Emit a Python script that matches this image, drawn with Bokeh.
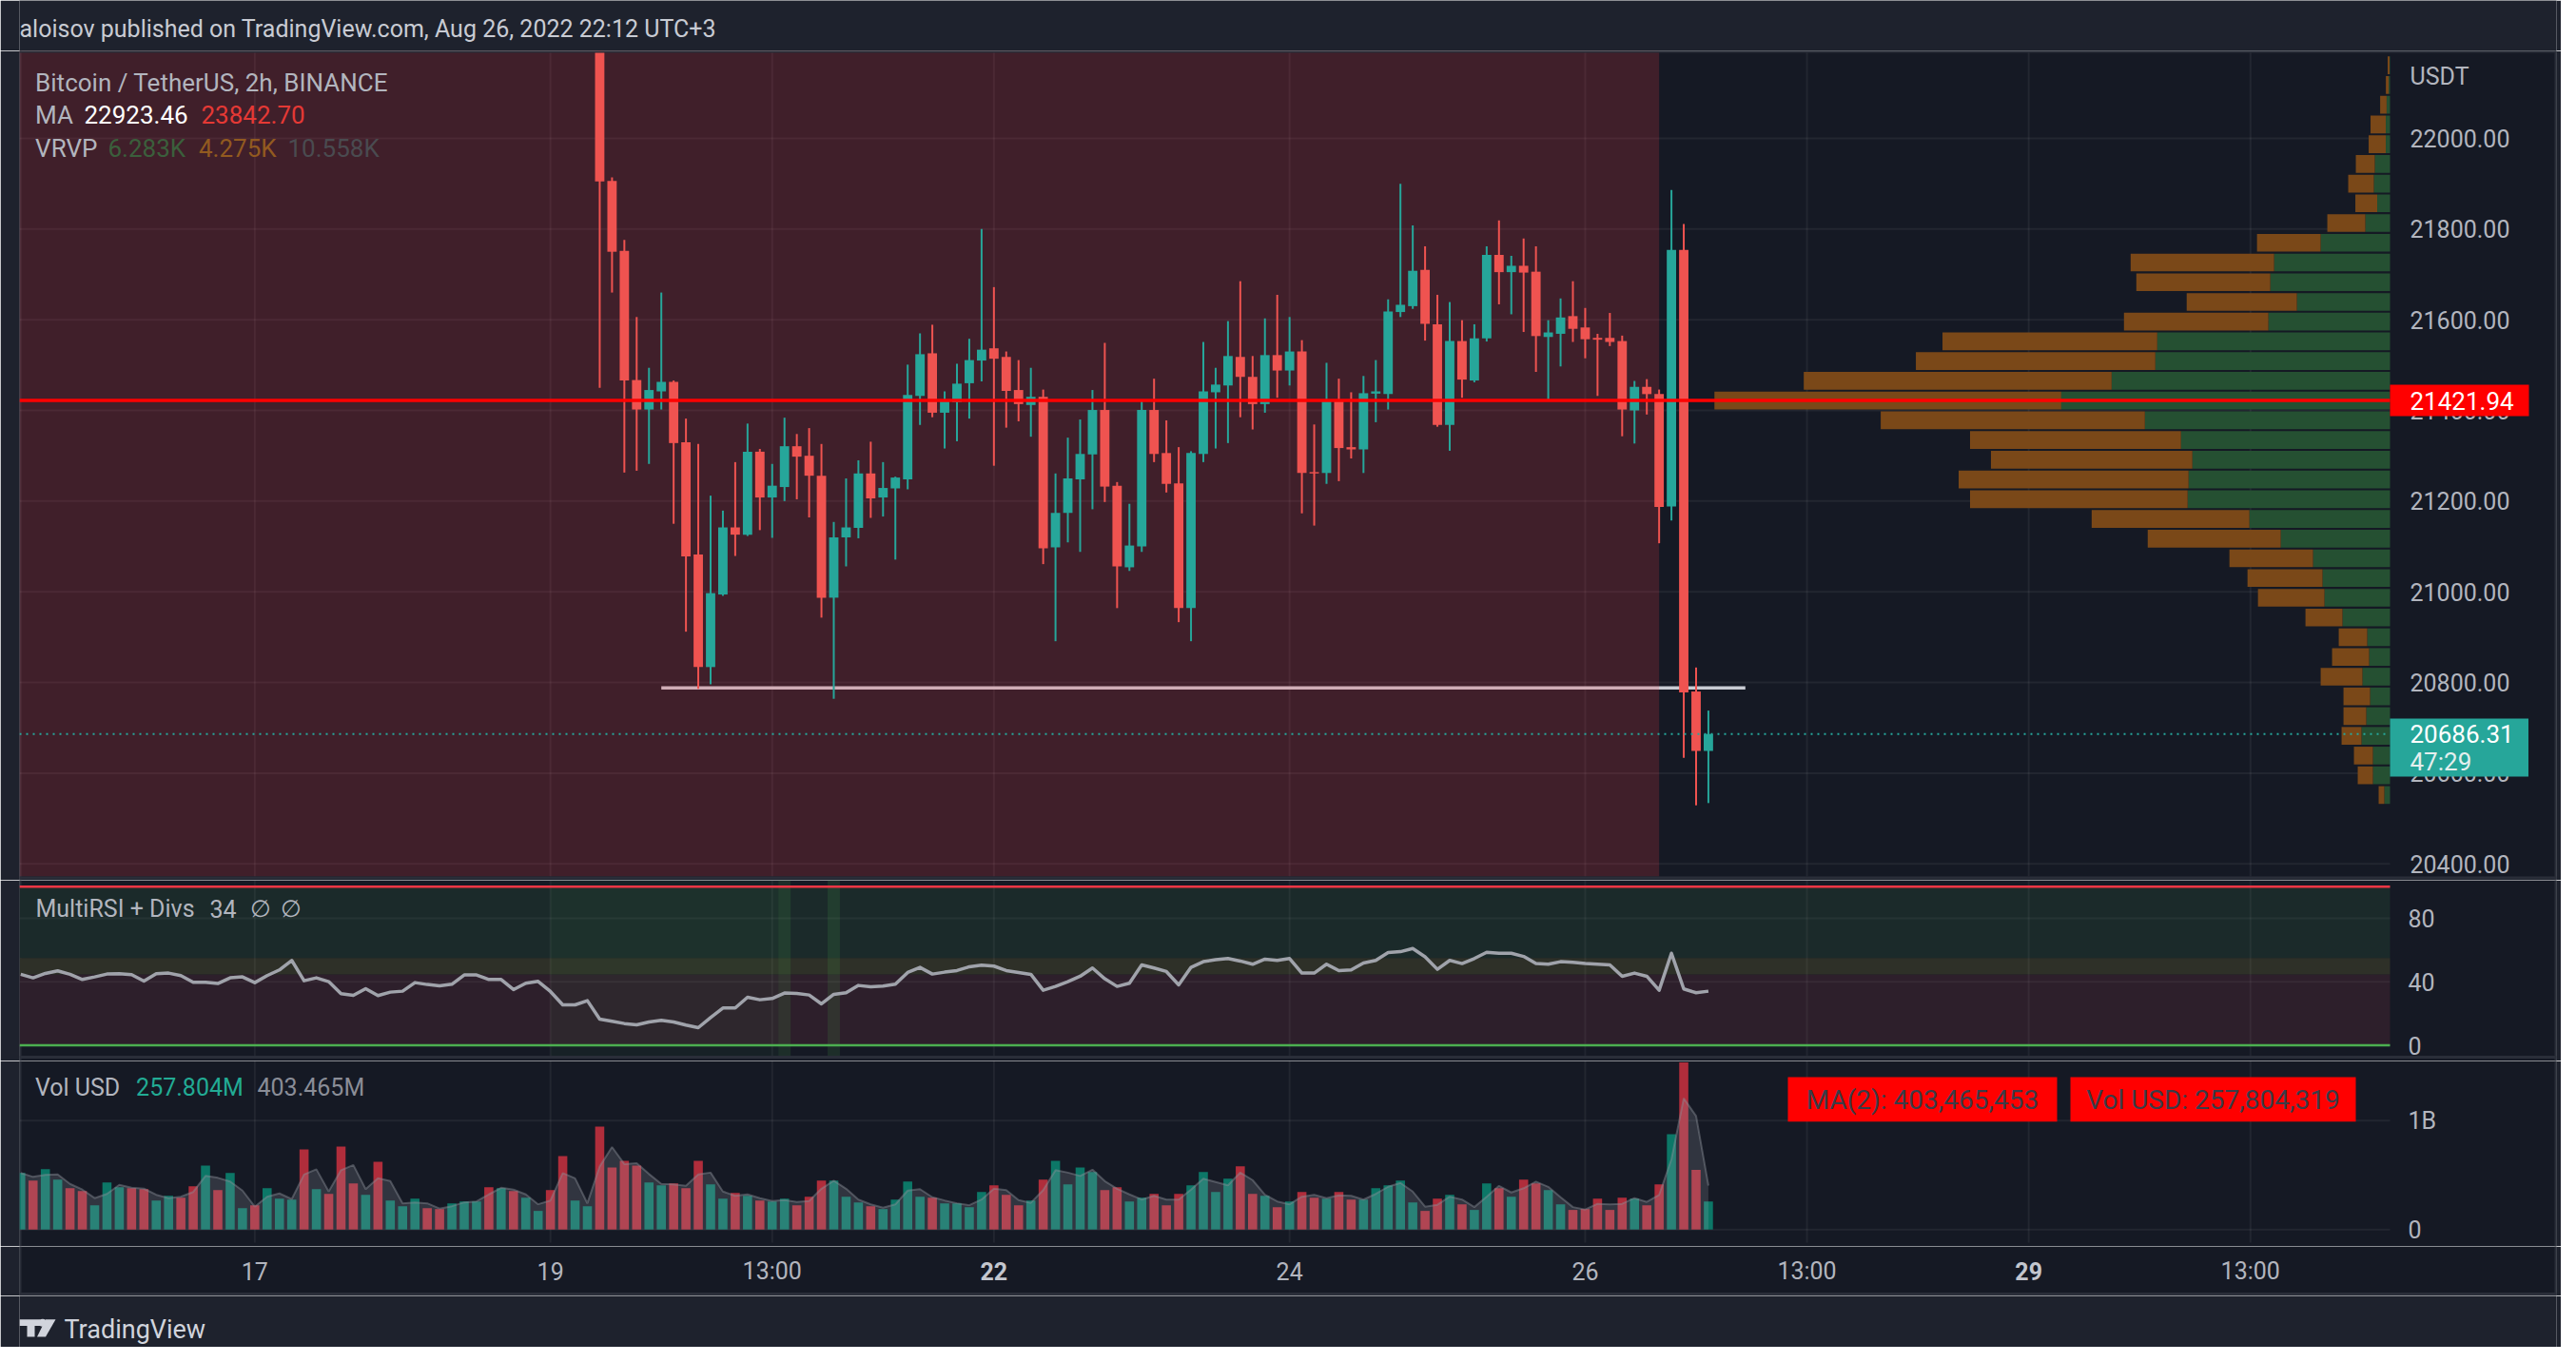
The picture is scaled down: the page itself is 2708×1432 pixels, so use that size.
from bokeh.plotting import figure
from bokeh.layouts import column
from bokeh.models import Range1d
from bokeh.core.properties import value
from bokeh.embed import file_html
from bokeh.resources import INLINE

FONT = value("Roboto")

# ----------------------------- data -----------------------------
first_bar = -47          # bar index of the first volume / RSI bar
first_candle = 0         # bar index of the first visible candle

candle_open = [22980, 21906, 21752, 21467, 21402, 21442, 21463, 21330, 21082, 20834,
               20994, 21142, 21126, 21309, 21208, 21231, 21321, 21300, 21256, 20987,
               21120, 21141, 21261, 21208, 21228, 21248, 21432, 21526, 21395, 21418,
               21460, 21510, 21537, 21518, 21445, 21412, 21430, 21098, 21174, 21248,
               21303, 21401, 21234, 21054, 21100, 21401, 21306, 21239, 20964, 21304,
               21440, 21455, 21518, 21474, 21414, 21522, 21488, 21530, 21264, 21262,
               21422, 21319, 21314, 21437, 21436, 21617, 21630, 21710, 21590, 21368,
               21553, 21466, 21559, 21743, 21705, 21719, 21706, 21562, 21569, 21608,
               21583, 21560, 21560, 21553, 21400, 21452, 21436, 21188, 21754, 20780,
               20649]
candle_high = [23030, 21914, 21776, 21606, 21494, 21660, 21466, 21382, 21326, 21212,
               21179, 21286, 21371, 21315, 21282, 21384, 21348, 21361, 21326, 21154,
               21250, 21290, 21331, 21286, 21254, 21501, 21570, 21589, 21442, 21503,
               21558, 21800, 21672, 21530, 21511, 21494, 21446, 21261, 21340, 21380,
               21445, 21549, 21242, 21194, 21423, 21470, 21378, 21319, 21310, 21551,
               21494, 21597, 21685, 21520, 21603, 21655, 21606, 21555, 21369, 21505,
               21470, 21440, 21476, 21511, 21645, 21900, 21808, 21762, 21655, 21639,
               21599, 21590, 21762, 21819, 21741, 21779, 21762, 21599, 21647, 21685,
               21626, 21569, 21615, 21565, 21465, 21469, 21446, 21886, 21811, 20833,
               20738]
candle_low = [21450, 21660, 21263, 21267, 21282, 21402, 21150, 20912, 20786, 20796,
              20991, 21079, 21123, 21136, 21119, 21200, 21204, 21164, 20943, 20764,
              21056, 21118, 21163, 21166, 21071, 21226, 21368, 21385, 21316, 21332,
              21382, 21464, 21278, 21362, 21376, 21342, 21061, 20891, 21109, 21088,
              21182, 21198, 20964, 21046, 21088, 21286, 21219, 20933, 20891, 21286,
              21316, 21328, 21385, 21358, 21395, 21428, 21455, 21173, 21146, 21238,
              21244, 21294, 21262, 21374, 21402, 21606, 21624, 21554, 21364, 21311,
              21428, 21462, 21552, 21634, 21612, 21573, 21485, 21424, 21497, 21551,
              21515, 21432, 21542, 21343, 21327, 21391, 21107, 21157, 20634, 20529,
              20534]
candle_close = [21905, 21750, 21466, 21402, 21445, 21463, 21328, 21078, 20834, 20997,
                21142, 21126, 21309, 21208, 21234, 21321, 21298, 21256, 20987, 21120,
                21142, 21261, 21206, 21229, 21252, 21434, 21524, 21395, 21422, 21459,
                21511, 21534, 21514, 21443, 21414, 21430, 21096, 21174, 21250, 21304,
                21401, 21232, 21056, 21102, 21401, 21304, 21238, 20964, 21306, 21442,
                21457, 21520, 21474, 21414, 21522, 21488, 21530, 21262, 21262, 21422,
                21317, 21314, 21438, 21442, 21618, 21633, 21708, 21591, 21368, 21553,
                21468, 21559, 21743, 21705, 21719, 21704, 21564, 21572, 21605, 21580,
                21557, 21556, 21551, 21402, 21452, 21436, 21187, 21754, 20778, 20649,
                20686.31]

# volume in million USD, bars -47 .. 90
vol_musd = [519, 449, 554, 458, 380, 354, 223, 432, 388, 380, 371, 267, 310, 293, 397,
            588, 362, 519, 197, 223, 380, 284, 275, 736, 371, 328, 762, 423, 319, 623,
            267, 214, 284, 197, 188, 241, 258, 258, 388, 380, 354, 293, 171, 362, 675,
            267, 214,
            945, 571, 632, 588, 432, 406, 423, 380, 632, 414, 284, 336, 310, 267, 258,
            284, 223, 301, 449, 449, 301, 249, 214,
            188, 275, 441, 301, 293, 241, 241, 206, 345, 406, 319, 223, 267, 458, 632,
            414, 571, 528, 362, 388, 258, 293, 328, 223, 328, 406, 528, 345, 467, 580,
            328, 310, 206, 258, 345, 293, 284, 345, 275, 275, 380, 406, 449, 249, 171,
            284, 319, 232, 180, 423, 380, 301, 458, 423, 362, 232, 180, 188, 284, 180,
            293, 284, 223, 414, 875, 1536, 549, 258]
# direction (1 = up) of the bars before the first visible candle
vol_up_before = [1, 0, 1, 1, 0, 0, 1, 1, 1, 0, 0, 1, 1, 0, 0, 1, 0, 1, 1, 0, 1, 1, 1, 0,
                 1, 0, 0, 0, 1, 0, 1, 1, 1, 0, 0, 1, 1, 1, 0, 1, 0, 1, 1, 0, 0, 1, 1]

rsi_values = [44.7, 42.5, 45.3, 46.9, 44.7, 41.5, 43.1, 44.9, 45.1, 44.5, 40.5, 45.1,
              45.5, 43.9, 39.7, 39.7, 38.9, 42.5, 43.1, 39.5, 43.9, 47.5, 53.5, 40.7,
              42.5, 40.1, 32.5, 31.5, 35.7, 31.3, 33.5, 34.1, 39.5, 38.3, 37.5, 38.5,
              44.3, 44.3, 41.5, 41.5, 35.1, 39.1, 40.3, 33.9, 25.5, 25.5, 28.1,
              16.5, 15.1, 13.7, 12.9, 14.7, 15.7, 14.7, 12.7, 11.1, 17.5, 23.5, 23.5,
              30.3, 28.7, 29.5, 32.9, 32.7, 31.7, 26.1, 32.1, 33.1, 37.7, 36.9, 37.3,
              38.5, 45.9, 49.1, 44.9, 46.1,
              47.1, 49.5, 50.5, 49.9, 47.1, 45.9, 44.7, 34.7, 37.1, 40.1, 43.5, 48.7,
              41.9, 37.1, 39.1, 50.7, 48.7, 46.5, 38.1, 49.1, 52.7, 53.9, 54.7, 53.1,
              51.1, 54.3, 53.5, 54.7, 45.5, 45.5, 51.1, 47.1, 47.5, 51.9, 53.5, 58.4,
              59.0, 61.0, 55.8, 47.9, 53.5, 51.5, 54.7, 58.6, 58.0, 58.0, 56.0, 51.5,
              51.1, 52.7, 52.3, 51.5, 51.1, 50.7, 43.5, 45.5, 43.5, 34.7, 58.0, 35.5,
              33.1, 34.1]
rsi_zone = (-4.0, 14.5)
rsi_div_bars = [15, 19]

# visible-range volume profile, rows bottom -> top
vp_low = 20530
vp_row = 43.5
vp_up = [60, 180, 180, 300, 250, 210, 290, 220, 240, 500, 690, 710, 810, 1150, 1480,
         2130, 2120, 2080, 2200, 2580, 3460, 2930, 2470, 2450, 1280, 980, 1260, 1220,
         730, 260, 135, 170, 160, 45, 45, 36, 14, 5]
vp_down = [60, 160, 200, 210, 240, 280, 440, 390, 300, 390, 700, 790, 880, 1400, 1660,
           2290, 2420, 2120, 2220, 2780, 3650, 3240, 2520, 2260, 1520, 1160, 1410, 1510,
           670, 400, 230, 270, 200, 180, 160, 68, 30, 20]

time_ticks = [-28, -4, 14, 32, 56, 80, 98, 116, 134]
time_labels = ["17", "19", "13:00", "22", "24", "26", "13:00", "29", "13:00"]
time_bold = [False, False, False, True, False, False, False, True, False]
price_ticks = [22000, 21800, 21600, 21400, 21200, 21000, 20800, 20600, 20400]
rsi_ticks = [80, 40, 0]
vol_ticks = [1e9, 0]
vol_tick_labels = ["1B", "0"]

hline_price = 21421.94
last_price = 20686.31
support_price = 20788
support_bars = (5, 93)
shade_end_bar = 86

# ----------------------------- layout -----------------------------
W = 2692
FL, FR = 20, 2687                # frame left / right in page px
BG = "#151924"
OUTER = "#1e222d"
BORDER = "#2a2e39"
PXB = 12.95                      # px per bar
X0 = -47.1
X1 = X0 + (FR - FL) / PXB
XB = X0 + (2512 - FL) / PXB      # right end of plot area (price scale starts)
PPX = 0.4767                     # px per USDT


def fx(rx):
    return X0 + (rx - FL) / PXB


def py_price(ry):
    return 22000 + (145 - ry) / PPX


def py_rsi(ry):
    return (1098.5 - ry) / 1.668


def py_vol(ry):
    return (1292.2 - ry) / 114.4 * 1e9


xr = Range1d(X0, X1)


def base(h, xrange_, yrange_, bg):
    p = figure(width=W, height=h, x_range=xrange_, y_range=yrange_, output_backend="svg",
               toolbar_location=None, tools="", x_axis_type=None, y_axis_type=None,
               min_border_left=FL, min_border_right=W - FR, min_border_top=0,
               min_border_bottom=0)
    p.background_fill_color = bg
    p.border_fill_color = OUTER
    p.outline_line_color = None
    return p


def panel(h, yr):
    p = base(h, xr, yr, BG)
    lo, hi = yr.start, yr.end
    p.segment(x0=[X0, X1], y0=[lo, lo], x1=[X0, X1], y1=[hi, hi], line_color=BORDER,
              line_width=4)
    return p


def hsep(p, y, width=2):
    p.segment(x0=[X0], y0=[y], x1=[X1], y1=[y], line_color=BORDER, line_width=width)


def txt(p, x, y, s, color, size="24px", align="left", style="normal"):
    p.text(x=[x], y=[y], text=[s], text_color=color, text_font=FONT,
           text_font_size=size, text_align=align, text_baseline="middle",
           text_font_style=style)


GRID = "#ffffff"
GRID_A = 0.06
LABEL = "#b2b5be"

# ----------------------------- header -----------------------------
hdr = base(53, Range1d(FL, FR), Range1d(53, 0), OUTER)
txt(hdr, 20, 30, "aloisov published on TradingView.com, Aug 26, 2022 22:12 UTC+3",
    "#c8cbd3", "25px")

# ----------------------------- price panel -----------------------------
pp = panel(872, Range1d(py_price(925), py_price(53)))
pp.segment(x0=[X0] * len(price_ticks), y0=price_ticks, x1=[XB] * len(price_ticks),
           y1=price_ticks, line_color=GRID, line_alpha=GRID_A, line_width=2)
pp.segment(x0=time_ticks, y0=[py_price(921)] * len(time_ticks), x1=time_ticks,
           y1=[py_price(53)] * len(time_ticks), line_color=GRID, line_alpha=GRID_A,
           line_width=2)
pp.segment(x0=[support_bars[0]], y0=[support_price], x1=[support_bars[1]],
           y1=[support_price], line_color="#c8cbd3", line_width=3.5)
pp.quad(left=[X0], right=[shade_end_bar], bottom=[py_price(921)], top=[py_price(50)],
        fill_color="#f23645", fill_alpha=0.2, line_color=None)

# volume profile
vp_max = max(u + d for u, d in zip(vp_up, vp_down))
vp_w = 0.285 * (XB - X0)
vp_bot = [vp_low + i * vp_row + 0.05 * vp_row for i in range(len(vp_up))]
vp_top = [vp_low + (i + 1) * vp_row - 0.05 * vp_row for i in range(len(vp_up))]
up_left = [XB - u / vp_max * vp_w for u in vp_up]
down_left = [XB - (u + d) / vp_max * vp_w for u, d in zip(vp_up, vp_down)]
pp.quad(left=up_left, right=[XB] * len(vp_up), bottom=vp_bot, top=vp_top,
        fill_color="#255032", line_color=None)
pp.quad(left=down_left, right=up_left, bottom=vp_bot, top=vp_top,
        fill_color="#7a4818", line_color=None)

# candles
cx = [first_candle + i for i in range(len(candle_open))]
ccol = ["#26a69a" if c >= o else "#ef5350" for o, c in zip(candle_open, candle_close)]
pp.segment(x0=cx, y0=candle_low, x1=cx, y1=candle_high, line_color=ccol, line_width=2)
btop = [max(o, c) for o, c in zip(candle_open, candle_close)]
bbot = [min(o, c) for o, c in zip(candle_open, candle_close)]
bbot = [b if t - b > 3 else t - 3 for t, b in zip(btop, bbot)]
pp.vbar(x=cx, width=0.76, top=btop, bottom=bbot, fill_color=ccol, line_color=None)

pp.segment(x0=[X0], y0=[last_price], x1=[XB], y1=[last_price], line_color="#26a69a",
           line_width=2, line_dash="2 5")
pp.segment(x0=[X0], y0=[hline_price], x1=[XB], y1=[hline_price], line_color="#ff0000",
           line_width=3.5)
hsep(pp, py_price(53), 4)
hsep(pp, py_price(922.5), 3)

# legend
txt(pp, fx(36.6), py_price(86), "Bitcoin / TetherUS, 2h, BINANCE", LABEL, "26px")
txt(pp, fx(36.6), py_price(120), "MA", LABEL, "26px")
txt(pp, fx(88), py_price(120), "22923.46", "#ffffff", "26px")
txt(pp, fx(211), py_price(120), "23842.70", "#e53935", "26px")
txt(pp, fx(36.6), py_price(155), "VRVP", LABEL, "26px")
txt(pp, fx(113), py_price(155), "6.283K", "#3b5f3c", "26px")
txt(pp, fx(208.5), py_price(155), "4.275K", "#925a20", "26px")
txt(pp, fx(302), py_price(155), "10.558K", "#4a4b50", "26px")

# price scale
txt(pp, fx(2533), py_price(80), "USDT", LABEL, "25px")
for pt in price_ticks:
    txt(pp, fx(2533), pt, "%.2f" % pt, LABEL, "25px")
pp.quad(left=[XB], right=[fx(2658)], bottom=[hline_price - 16.5 / PPX],
        top=[hline_price + 16.5 / PPX], fill_color="#ff0000", line_color=None)
txt(pp, fx(2533), hline_price, "%.2f" % hline_price, "#ffffff", "26px")
pp.quad(left=[XB], right=[fx(2657.5)], bottom=[py_price(816)], top=[py_price(755)],
        fill_color="#26a69a", line_color=None)
txt(pp, fx(2533), last_price, "%.2f" % last_price, "#ffffff", "26px")
txt(pp, fx(2533), py_price(800), "47:29", "#e4efee", "26px")

# ----------------------------- RSI panel -----------------------------
rp = panel(190, Range1d(py_rsi(1115), py_rsi(925)))
rp.quad(left=[X0] * 3, right=[XB] * 3, bottom=[55, 44.5, 0], top=[100, 55, 44.5],
        fill_color=["#1b2a2a", "#2e3028", "#2d1f2b"], line_color=None)
rp.quad(left=[rsi_zone[0]], right=[rsi_zone[1]], bottom=[py_rsi(1110)],
        top=[py_rsi(921)], fill_color="#4caf50", fill_alpha=0.06, line_color=None)
rp.quad(left=[b - 0.5 for b in rsi_div_bars], right=[b + 0.5 for b in rsi_div_bars],
        bottom=[py_rsi(1110)] * len(rsi_div_bars), top=[py_rsi(921)] * len(rsi_div_bars),
        fill_color="#4caf50", fill_alpha=0.14, line_color=None)
rp.segment(x0=[X0] * 2, y0=[80, 40], x1=[XB] * 2, y1=[80, 40], line_color=GRID,
           line_alpha=0.05, line_width=2)
rp.segment(x0=time_ticks, y0=[py_rsi(1110)] * len(time_ticks), x1=time_ticks,
           y1=[py_rsi(921)] * len(time_ticks), line_color=GRID, line_alpha=0.05,
           line_width=2)
rp.segment(x0=[X0], y0=[100], x1=[XB], y1=[100], line_color="#f23645", line_width=2.5)
rp.segment(x0=[X0], y0=[0], x1=[XB], y1=[0], line_color="#4caf50", line_width=2.5)
rx = [first_bar + i for i in range(len(rsi_values))]
rp.line(x=rx, y=rsi_values, line_color="#a0a3ab", line_width=3.5, line_join="round")
hsep(rp, py_rsi(1111), 3)
txt(rp, fx(37), py_rsi(955), "MultiRSI + Divs", LABEL, "25px")
txt(rp, fx(220), py_rsi(955), "34", LABEL, "25px")
txt(rp, fx(262), py_rsi(955), "\u2205", LABEL, "25px")
txt(rp, fx(294), py_rsi(955), "\u2205", LABEL, "25px")
for t in rsi_ticks:
    txt(rp, fx(2531), t, str(t), LABEL, "25px")

# ----------------------------- volume panel -----------------------------
vp = panel(195, Range1d(py_vol(1310), py_vol(1115)))
vp.segment(x0=[X0] * 2, y0=vol_ticks, x1=[XB] * 2, y1=vol_ticks, line_color=GRID,
           line_alpha=GRID_A, line_width=2)
vp.segment(x0=time_ticks, y0=[py_vol(1306)] * len(time_ticks), x1=time_ticks,
           y1=[py_vol(1111)] * len(time_ticks), line_color=GRID, line_alpha=GRID_A,
           line_width=2)
vx = [first_bar + i for i in range(len(vol_musd))]
vol_usd = [v * 1e6 for v in vol_musd]
vol_up = vol_up_before + [1 if c >= o else 0 for o, c in zip(candle_open, candle_close)]
vcol = ["#0c7767" if u else "#b02d3b" for u in vol_up]
vp.vbar(x=vx, width=0.74, top=vol_usd, bottom=0, fill_color=vcol, line_color=None)
ma2 = [vol_usd[0]] + [(vol_usd[i] + vol_usd[i - 1]) / 2 for i in range(1, len(vol_usd))]
vp.varea(x=vx, y1=0, y2=ma2, fill_color="#b4b7c0", fill_alpha=0.18)
vp.line(x=vx, y=ma2, line_color="#8a8d97", line_alpha=0.45, line_width=2)
txt(vp, fx(36.4), py_vol(1143), "Vol USD", LABEL, "25px")
txt(vp, fx(142.6), py_vol(1143), "257.804M", "#22ab94", "25px")
txt(vp, fx(270), py_vol(1143), "403.465M", "#8a8d97", "25px")
for t, s in zip(vol_ticks, vol_tick_labels):
    txt(vp, fx(2531), t, s, LABEL, "25px")
vp.quad(left=[fx(1879), fx(2176)], right=[fx(2162), fx(2476)],
        bottom=[py_vol(1178.7)] * 2, top=[py_vol(1132)] * 2, fill_color="#ff0000",
        line_color=None)
txt(vp, fx(2020.5), py_vol(1155.5), "MA(2): 403,465,453", "#3a3c48", "28px", "center")
txt(vp, fx(2326), py_vol(1155.5), "Vol USD: 257,804,319", "#3a3c48", "28px", "center")

# ----------------------------- time axis -----------------------------
tp = panel(52, Range1d(1362, 1310))
hsep(tp, 1360.5, 4)
for t, s, b in zip(time_ticks, time_labels, time_bold):
    txt(tp, t, 1335.7, s, "#c3c6ce" if b else LABEL, "25px", "center",
        "bold" if b else "normal")

# ----------------------------- footer -----------------------------
ft = base(54, Range1d(FL, FR), Range1d(1416, 1362), OUTER)
ft.patches(xs=[[20, 42, 42, 36, 36, 28, 28, 20], [47.5, 58, 47.5, 38.5]],
           ys=[[1386.7, 1386.7, 1393.5, 1393.5, 1405, 1405, 1393.5, 1393.5],
               [1386.7, 1386.7, 1405, 1405]],
           fill_color="#d1d4dc", line_color=None)
ft.scatter(x=[44.3], y=[1390.2], size=8, marker="circle", fill_color="#d1d4dc",
           line_color=None)
txt(ft, 67, 1397, "TradingView", "#d1d4dc", "27px")

layout = column(hdr, pp, rp, vp, tp, ft)
open("out.html", "w").write(file_html(layout, INLINE))
